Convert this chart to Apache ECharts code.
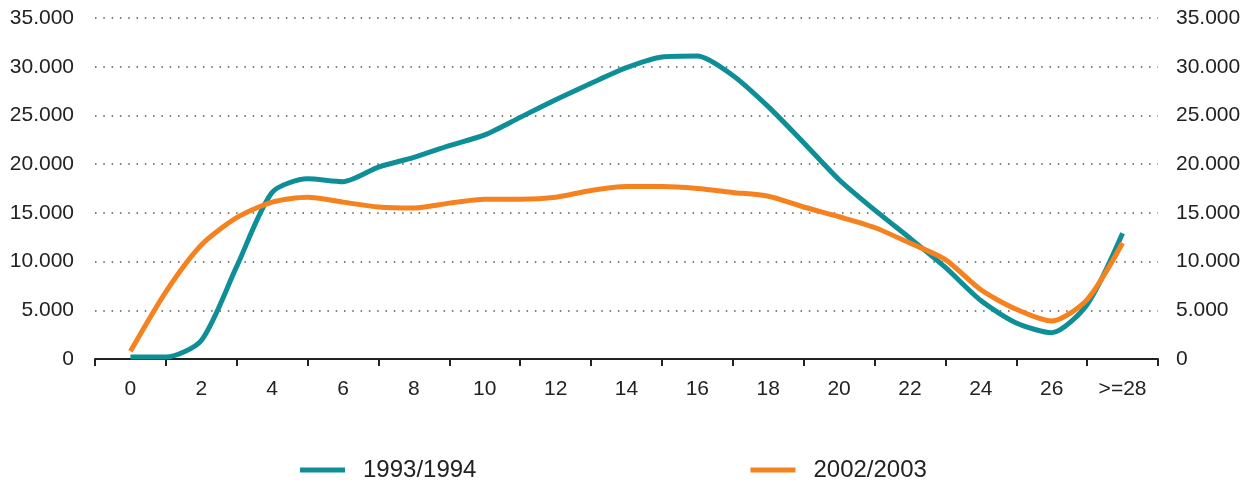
<!DOCTYPE html>
<html>
<head>
<meta charset="utf-8">
<script src="https://cdn.jsdelivr.net/npm/echarts@6/dist/echarts.min.js"></script>
<style>
  html, body { margin: 0; padding: 0; background: #fff; }
  #chart { width: 1249px; height: 485px; }
</style>
</head>
<body>
<div id="chart"></div>
<script>
// tick labels of the category axis (one category = two years)
const xLabels = ['0', '2', '4', '6', '8', '10', '12', '14', '16', '18', '20', '22', '24', '26', '>=28'];
// one point per year of age
const ages = [0, 1, 2, 3, 4, 5, 6, 7, 8, 9, 10, 11, 12, 13, 14, 15, 16, 17, 18, 19, 20, 21, 22, 23, 24, 25, 26, 27, 28];
const s1993 = [200, 200, 1900, 9500, 17100, 18500, 18200, 19700, 20700, 21900, 23000, 24800, 26600, 28300, 29900,
  31000, 31100, 29100, 25900, 22200, 18400, 15300, 12400, 9400, 6000, 3700, 2700, 5600, 12900];
const s2002 = [800, 6900, 11700, 14500, 16100, 16600, 16100, 15600, 15500, 16000, 16400, 16400, 16600, 17300, 17700,
  17700, 17500, 17100, 16700, 15600, 14600, 13500, 11900, 10200, 7100, 5100, 3900, 6100, 11900];
const seriesNames = ['1993/1994', '2002/2003'];

const teal = '#0E8F98';
const orange = '#F5821F';

function fmt(v) {
  return String(v).replace(/\B(?=(\d{3})+(?!\d))/g, '.');
}

let myChart = echarts.init(document.getElementById('chart'));

const yAxisBase = {
  type: 'value',
  min: 0,
  max: 35000,
  interval: 5000,
  axisLine: { show: false },
  axisTick: { show: false },
  axisLabel: {
    formatter: fmt,
    color: '#222',
    fontSize: 21,
    fontFamily: 'Liberation Sans, Arial, sans-serif'
  }
};

var option = {
  animation: false,
  grid: { left: 95, right: 91, top: 18, bottom: 126, containLabel: false },
  legend: {
    left: 300,
    top: 458,
    padding: 0,
    itemWidth: 45,
    itemHeight: 5,
    itemGap: 274,
    icon: 'rect',
    textStyle: {
      fontSize: 24,
      color: '#222',
      fontFamily: 'Liberation Sans, Arial, sans-serif',
      padding: [0, 0, 0, 13]
    },
    data: seriesNames
  },
  xAxis: [
    {
      type: 'category',
      data: xLabels,
      boundaryGap: true,
      axisLine: { lineStyle: { color: '#222', width: 2 } },
      axisTick: { show: true, length: 7, lineStyle: { color: '#222', width: 2 } },
      axisLabel: {
        color: '#222',
        fontSize: 21,
        margin: 20,
        fontFamily: 'Liberation Sans, Arial, sans-serif'
      },
      splitLine: { show: false }
    },
    {
      type: 'value',
      min: -1,
      max: 29,
      show: false
    }
  ],
  yAxis: [
    Object.assign({}, yAxisBase, {
      position: 'left',
      axisLabel: Object.assign({}, yAxisBase.axisLabel, { margin: 21 }),
      splitLine: { show: true, lineStyle: { color: '#555', width: 1.5, type: [1.5, 6.8] } }
    }),
    Object.assign({}, yAxisBase, {
      position: 'right',
      axisLabel: Object.assign({}, yAxisBase.axisLabel, { margin: 18 }),
      splitLine: { show: false }
    })
  ],
  series: [
    {
      name: seriesNames[0],
      type: 'line',
      xAxisIndex: 1,
      yAxisIndex: 0,
      smooth: 0.25,
      symbol: 'none',
      lineStyle: { color: teal, width: 5 },
      itemStyle: { color: teal },
      data: ages.map((a, i) => [a, s1993[i]])
    },
    {
      name: seriesNames[1],
      type: 'line',
      xAxisIndex: 1,
      yAxisIndex: 0,
      smooth: 0.25,
      symbol: 'none',
      lineStyle: { color: orange, width: 5 },
      itemStyle: { color: orange },
      data: ages.map((a, i) => [a, s2002[i]])
    }
  ]
};

myChart.setOption(option);
window.onresize = myChart.resize;
</script>
</body>
</html>
